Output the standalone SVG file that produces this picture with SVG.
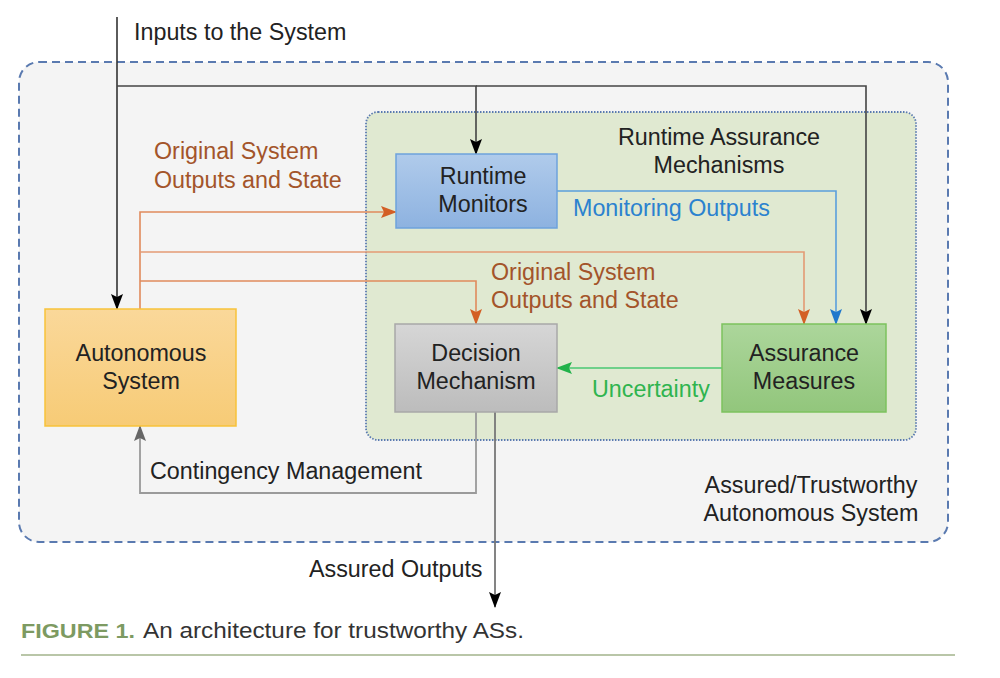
<svg xmlns="http://www.w3.org/2000/svg" width="1000" height="678" viewBox="0 0 1000 678">
<style>
text{font-family:"Liberation Sans",Arial,sans-serif;font-size:23.3px;fill:#222}
.ctr{text-anchor:middle}
.org{fill:#a3542a}
.blu{fill:#2b82cf}
.grn{fill:#2fb44e}
.cn{fill:none}
</style>
<defs>
<linearGradient id="gBlue" x1="0" y1="0" x2="0" y2="1"><stop offset="0" stop-color="#b0cbeb"/><stop offset="1" stop-color="#8db2e0"/></linearGradient>
<linearGradient id="gOrange" x1="0" y1="0" x2="0" y2="1"><stop offset="0" stop-color="#fad89a"/><stop offset="1" stop-color="#f7cb76"/></linearGradient>
<linearGradient id="gGray" x1="0" y1="0" x2="0" y2="1"><stop offset="0" stop-color="#d6d6d6"/><stop offset="1" stop-color="#bcbcbc"/></linearGradient>
<linearGradient id="gGreen" x1="0" y1="0" x2="0" y2="1"><stop offset="0" stop-color="#acd69b"/><stop offset="1" stop-color="#92c67c"/></linearGradient>
<marker id="aBlack" markerUnits="userSpaceOnUse" markerWidth="16" markerHeight="16" viewBox="0 0 16 16" refX="15" refY="8" orient="auto"><path d="M0,2 L16,8 L0,14 L3,8 Z" fill="#000"/></marker>
<marker id="aOrange" markerUnits="userSpaceOnUse" markerWidth="16" markerHeight="16" viewBox="0 0 16 16" refX="15" refY="8" orient="auto"><path d="M0,2 L16,8 L0,14 L3,8 Z" fill="#d35f25"/></marker>
<marker id="aBlue" markerUnits="userSpaceOnUse" markerWidth="16" markerHeight="16" viewBox="0 0 16 16" refX="15" refY="8" orient="auto"><path d="M0,2 L16,8 L0,14 L3,8 Z" fill="#1f78cc"/></marker>
<marker id="aGreen" markerUnits="userSpaceOnUse" markerWidth="16" markerHeight="16" viewBox="0 0 16 16" refX="15" refY="8" orient="auto"><path d="M0,2 L16,8 L0,14 L3,8 Z" fill="#22b24a"/></marker>
<marker id="aGray" markerUnits="userSpaceOnUse" markerWidth="16" markerHeight="16" viewBox="0 0 16 16" refX="15" refY="8" orient="auto"><path d="M0,2 L16,8 L0,14 L3,8 Z" fill="#666"/></marker>
</defs>
<rect width="1000" height="678" fill="#fff"/>

<g id="outer-container">
<rect x="19" y="62" width="929" height="480" rx="20" fill="#f4f4f4" stroke="#5a7ab0" stroke-width="2" stroke-dasharray="8,5"/>
<text x="811" y="493" class="ctr">Assured/Trustworthy</text>
<text x="811" y="521" class="ctr">Autonomous System</text>
</g>

<g id="runtime-assurance-container">
<rect x="366" y="112" width="550" height="328" rx="12" fill="#e0e9d1" stroke="#5a7ab0" stroke-width="1.8" stroke-dasharray="1.5,1.5"/>
<text x="719" y="145" class="ctr">Runtime Assurance</text>
<text x="719" y="173" class="ctr">Mechanisms</text>
</g>

<g id="connectors">
<polyline class="cn" points="117,17 117,309" stroke="#333" stroke-width="1.6" marker-end="url(#aBlack)"/>
<polyline class="cn" points="117,86 476,86 476,154" stroke="#444" stroke-width="1.6" marker-end="url(#aBlack)"/>
<polyline class="cn" points="476,86 866,86 866,324" stroke="#444" stroke-width="1.6" marker-end="url(#aBlack)"/>
<polyline class="cn" points="140,309 140,212 396,212" stroke="#e08a5c" stroke-width="1.6" marker-end="url(#aOrange)"/>
<polyline class="cn" points="140,252 804,252 804,324" stroke="#e39a74" stroke-width="1.6" marker-end="url(#aOrange)"/>
<polyline class="cn" points="140,281 476,281 476,324" stroke="#e08a5c" stroke-width="1.6" marker-end="url(#aOrange)"/>
<polyline class="cn" points="557,191 836,191 836,324" stroke="#5a9fdc" stroke-width="1.6" marker-end="url(#aBlue)"/>
<polyline class="cn" points="722,368 557,368" stroke="#6fd08a" stroke-width="1.8" marker-end="url(#aGreen)"/>
<polyline class="cn" points="476,412 476,493 140,493 140,426" stroke="#9a9a9a" stroke-width="1.8" marker-end="url(#aGray)"/>
<polyline class="cn" points="495,412 495,607" stroke="#777" stroke-width="1.8" marker-end="url(#aBlack)"/>
<text x="154" y="159" class="org">Original System</text>
<text x="154" y="188" class="org">Outputs and State</text>
<text x="491" y="280" class="org">Original System</text>
<text x="491" y="308" class="org">Outputs and State</text>
<text x="573" y="216" class="blu">Monitoring Outputs</text>
<text x="592" y="397" class="grn">Uncertainty</text>
<text x="150" y="479">Contingency Management</text>
<text x="134" y="40">Inputs to the System</text>
<text x="309" y="577">Assured Outputs</text>
</g>

<g id="runtime-monitors">
<rect x="396" y="154" width="161" height="74" fill="url(#gBlue)" stroke="#6ea2dc" stroke-width="1.5"/>
<text x="483" y="184" class="ctr">Runtime</text>
<text x="483" y="212" class="ctr">Monitors</text>
</g>

<g id="autonomous-system">
<rect x="45" y="309" width="191" height="117" fill="url(#gOrange)" stroke="#f7c23a" stroke-width="1.5"/>
<text x="141" y="361" class="ctr">Autonomous</text>
<text x="141" y="389" class="ctr">System</text>
</g>

<g id="decision-mechanism">
<rect x="395" y="324" width="162" height="88" fill="url(#gGray)" stroke="#a8a8a8" stroke-width="1.5"/>
<text x="476" y="361" class="ctr">Decision</text>
<text x="476" y="389" class="ctr">Mechanism</text>
</g>

<g id="assurance-measures">
<rect x="722" y="324" width="164" height="88" fill="url(#gGreen)" stroke="#7cc25e" stroke-width="1.5"/>
<text x="804" y="361" class="ctr">Assurance</text>
<text x="804" y="389" class="ctr">Measures</text>
</g>

<g id="caption">
<text x="21" y="638" style="font-weight:bold;fill:#7d9a62;font-size:21px" textLength="114" lengthAdjust="spacingAndGlyphs">FIGURE 1.</text>
<text x="143" y="638" style="fill:#333;font-size:22px" textLength="381" lengthAdjust="spacingAndGlyphs">An architecture for trustworthy ASs.</text>
<line x1="21" y1="655" x2="955" y2="655" stroke="#b9c6a8" stroke-width="2"/>
</g>
</svg>
